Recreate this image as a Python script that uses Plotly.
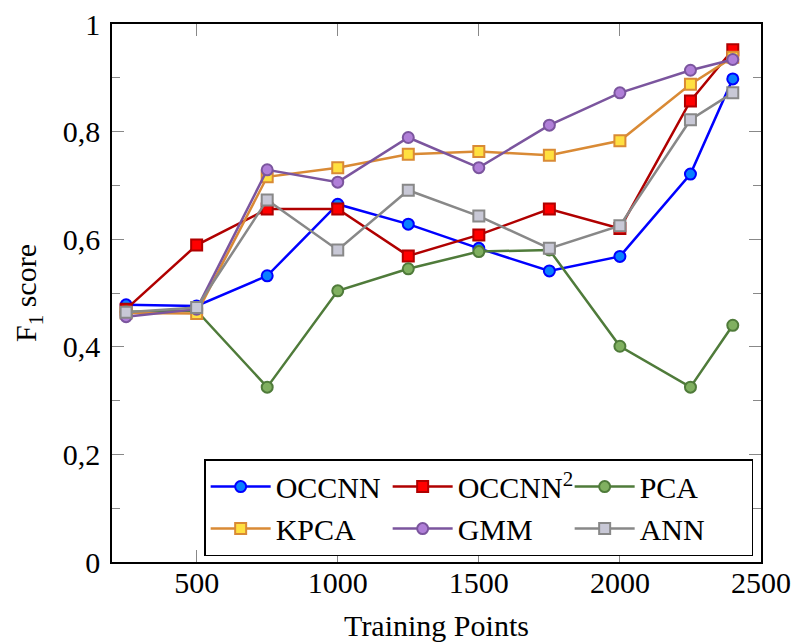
import plotly.graph_objects as go

training_points = [250, 500, 750, 1000, 1250, 1500, 1750, 2000, 2250, 2400]

occnn  = [0.478, 0.476, 0.532, 0.665, 0.628, 0.583, 0.541, 0.568, 0.721, 0.898]
occnn2 = [0.470, 0.589, 0.656, 0.656, 0.569, 0.608, 0.656, 0.620, 0.857, 0.952]
pca    = [0.465, 0.467, 0.325, 0.504, 0.545, 0.577, 0.580, 0.401, 0.325, 0.440]
kpca   = [0.463, 0.462, 0.716, 0.733, 0.758, 0.763, 0.756, 0.783, 0.888, 0.938]
gmm    = [0.456, 0.470, 0.729, 0.706, 0.789, 0.733, 0.812, 0.872, 0.914, 0.934]
ann    = [0.464, 0.473, 0.673, 0.580, 0.691, 0.643, 0.583, 0.625, 0.822, 0.872]

y_tick_vals = [0, 0.2, 0.4, 0.6, 0.8, 1]
y_tick_text = ["0", "0,2", "0,4", "0,6", "0,8", "1"]
x_tick_vals = [500, 1000, 1500, 2000, 2500]

series = [
    ("OCCNN", occnn, "#0000ff", "#0a80ff", "#0000ff", "circle"),
    ("OCCNN<sup>2</sup>", occnn2, "#b00000", "#ff0000", "#b00000", "square"),
    ("PCA", pca, "#4f7b3a", "#80b060", "#4f7b3a", "circle"),
    ("KPCA", kpca, "#d98a35", "#ffe040", "#d98a35", "square"),
    ("GMM", gmm, "#7b559e", "#b07fd8", "#7b559e", "circle"),
    ("ANN", ann, "#888888", "#c8c8d6", "#888888", "square"),
]

FONT = "Liberation Serif"
FS = 30

fig = go.Figure()
for name, vals, lc, fc, mc, sym in series:
    fig.add_trace(go.Scatter(
        x=training_points, y=vals, name=name, mode="lines+markers",
        line=dict(color=lc, width=2.5),
        marker=dict(symbol=sym, size=11, color=fc, line=dict(color=mc, width=2)),
    ))

fig.update_layout(
    width=793, height=642,
    margin=dict(l=112, r=32, t=24, b=80),
    paper_bgcolor="white", plot_bgcolor="white",
    font=dict(family=FONT, size=FS, color="black"),
    showlegend=True,
    legend=dict(
        orientation="h", x=0.142, xanchor="left", y=0.011, yanchor="bottom",
        bordercolor="black", borderwidth=1.5, bgcolor="white",
        font=dict(family=FONT, size=FS), entrywidth=107, itemwidth=60,
        tracegroupgap=0,
    ),
)

fig.update_xaxes(
    range=[200, 2500], tickvals=x_tick_vals, ticks="inside", ticklen=12,
    tickcolor="#888888", tickwidth=1, showgrid=False, zeroline=False,
    showline=True, linecolor="black", linewidth=1.5, mirror="ticks",
    title=dict(text="Training Points", standoff=18, font=dict(size=FS)),
    tickfont=dict(size=FS), automargin=False, ticklabelstandoff=-7,
)
fig.update_yaxes(
    range=[0, 1], tickvals=y_tick_vals, ticktext=y_tick_text, ticks="inside",
    ticklen=12, tickcolor="#888888", tickwidth=1, showgrid=False, zeroline=False,
    showline=True, linecolor="black", linewidth=1.5, mirror="ticks",
    minor=dict(dtick=0.1, ticks="inside", ticklen=8, tickcolor="#888888", showgrid=False),
    title=dict(text="F<sub>1</sub> score", standoff=17, font=dict(size=FS)),
    tickfont=dict(size=FS), ticklabelstandoff=4, automargin=False,
)

fig.write_html(
    "out.html",
    config={"displayModeBar": False},
    post_script="document.body.style.margin='0';document.body.style.overflow='hidden';",
)
